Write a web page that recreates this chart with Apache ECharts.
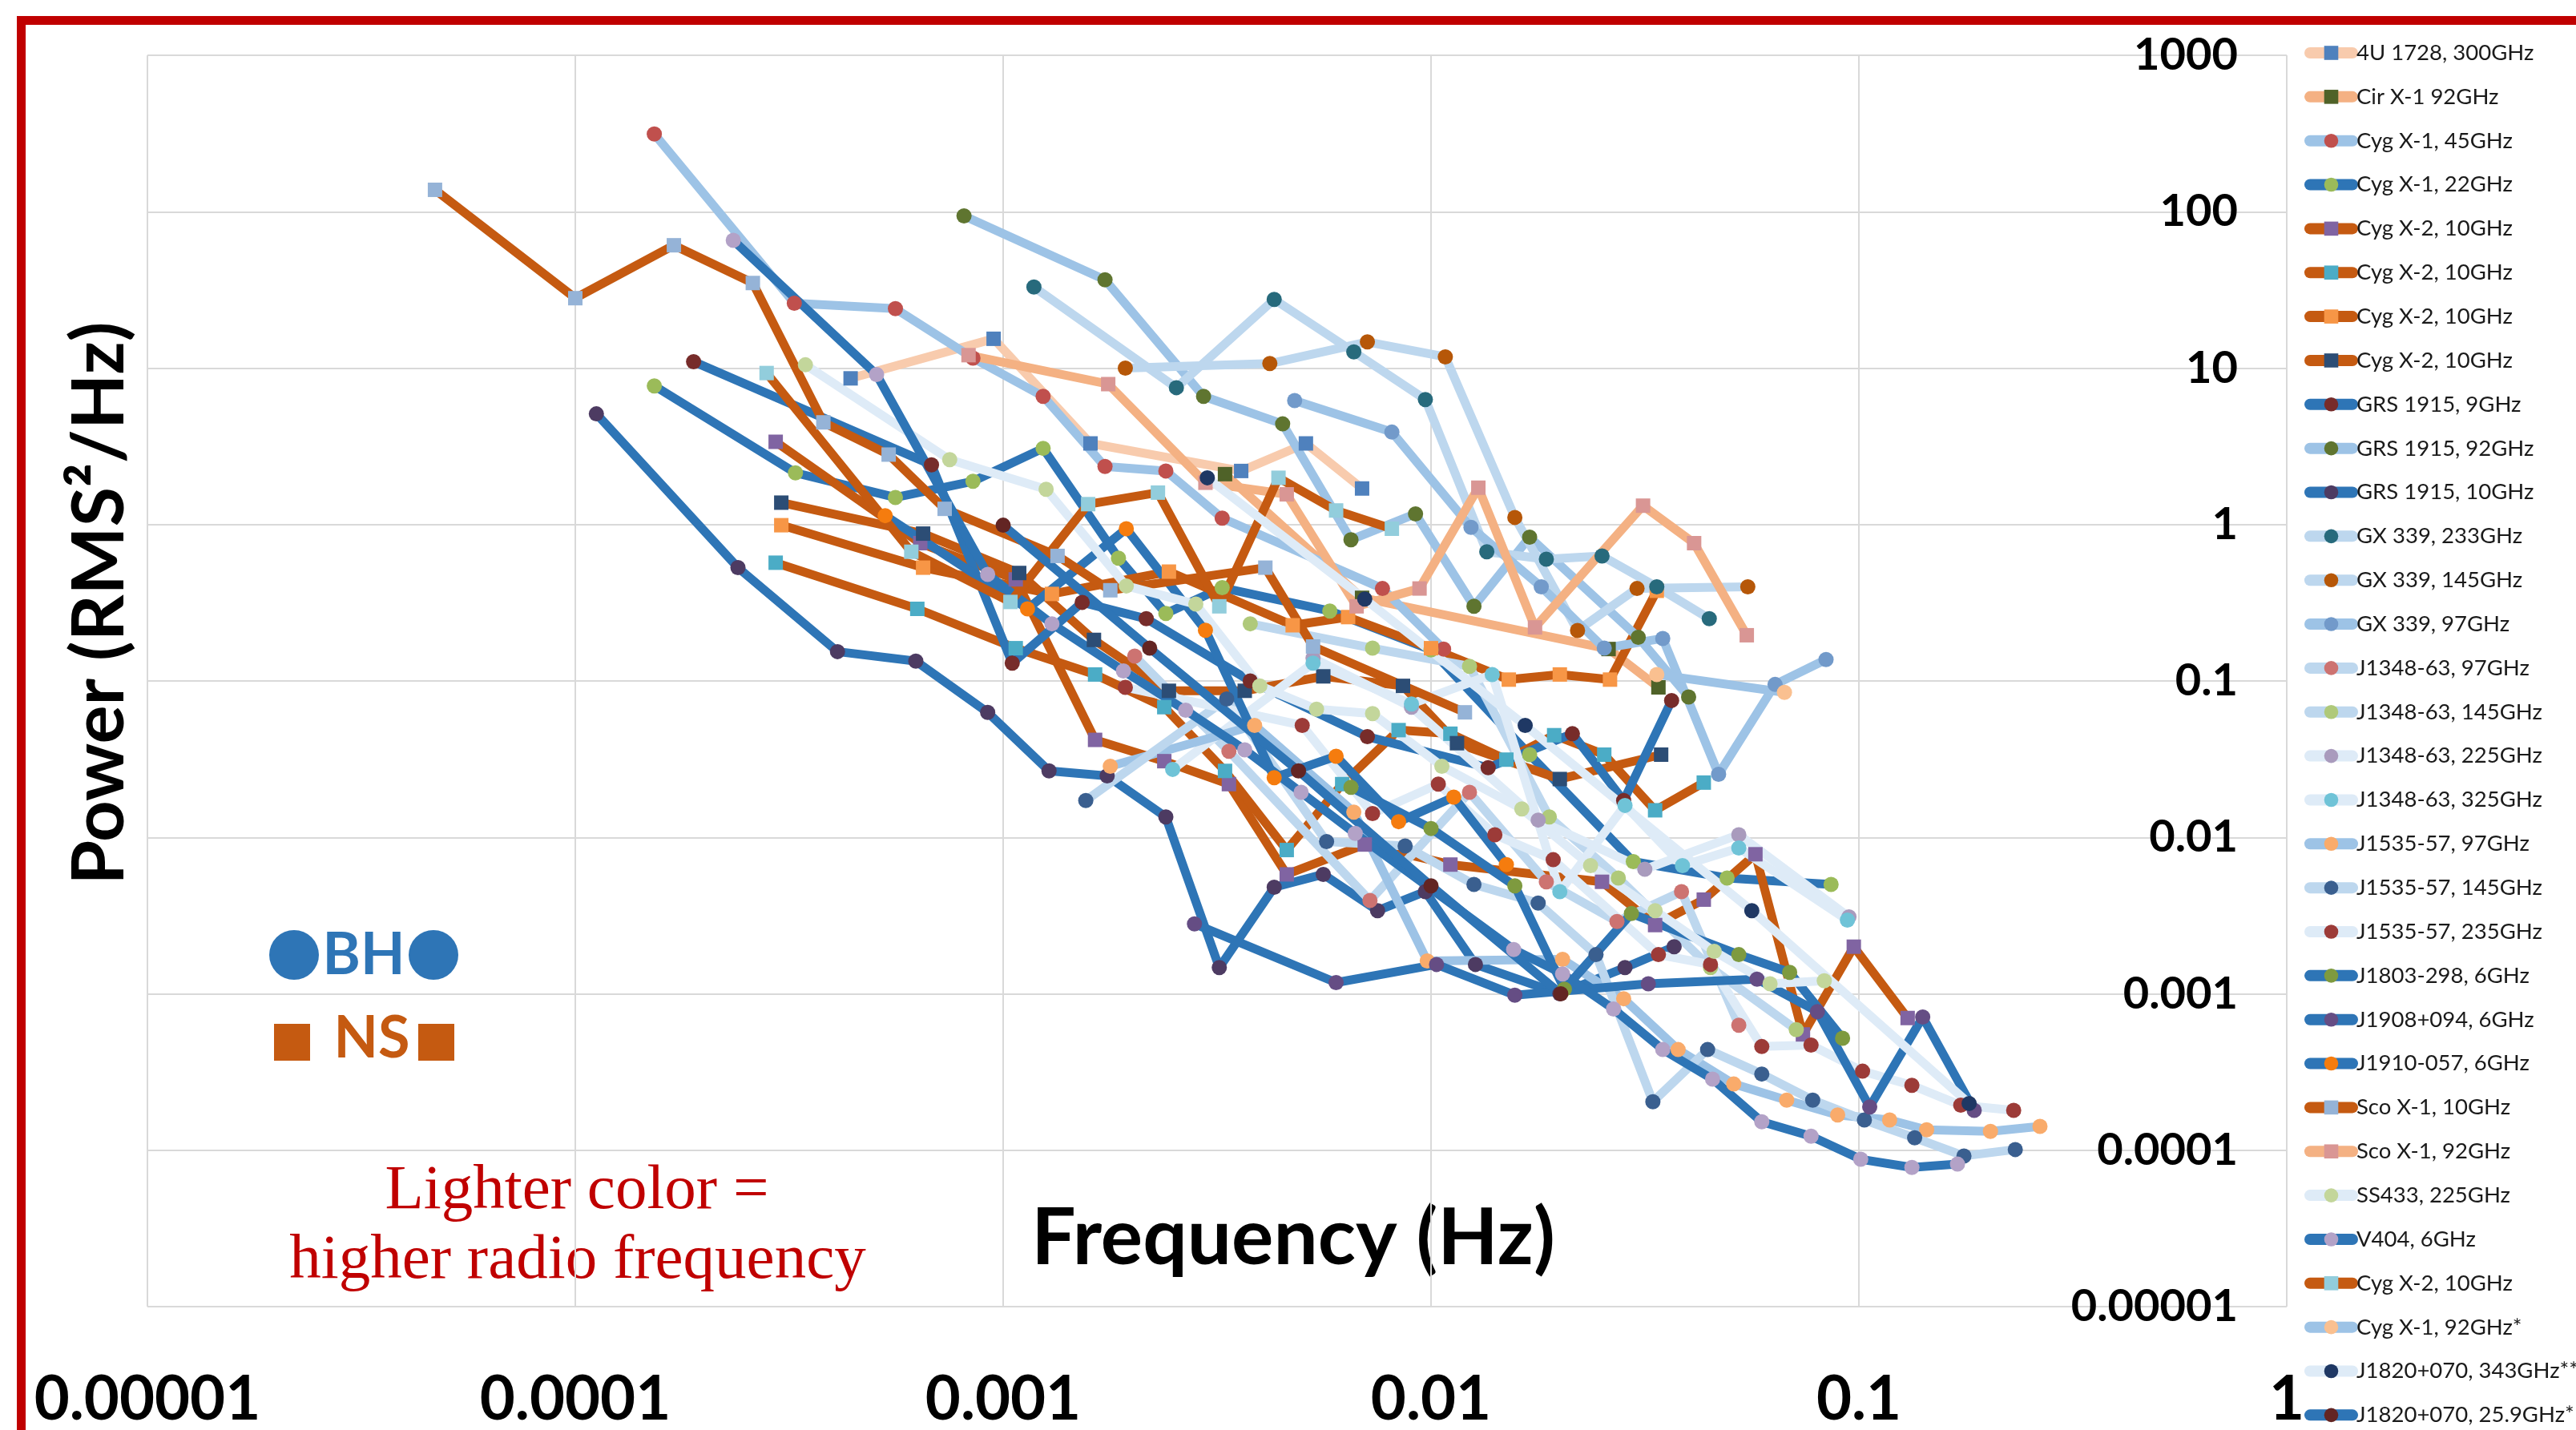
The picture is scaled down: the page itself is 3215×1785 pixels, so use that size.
<!DOCTYPE html>
<html>
<head>
<meta charset="utf-8">
<script src="https://cdn.jsdelivr.net/npm/echarts@6/dist/echarts.min.js"></script>
<style>
  html, body { margin: 0; padding: 0; background: #fff; }
  #chart { width: 3215px; height: 1785px; }
</style>
</head>
<body>
<div id="chart"></div>
<script>
// axis tick labels, one per decade
const xTickLabels = ['0.00001', '0.0001', '0.001', '0.01', '0.1', '1'];
const yTickLabels = ['0.00001', '0.0001', '0.001', '0.01', '0.1', '1', '10', '100', '1000'];

// legend names (text after '#' only keeps duplicates apart)
const seriesNames = [
  '4U 1728, 300GHz', 'Cir X-1 92GHz', 'Cyg X-1, 45GHz', 'Cyg X-1, 22GHz',
  'Cyg X-2, 10GHz#a', 'Cyg X-2, 10GHz#b', 'Cyg X-2, 10GHz#c', 'Cyg X-2, 10GHz#d',
  'GRS 1915, 9GHz', 'GRS 1915, 92GHz', 'GRS 1915, 10GHz', 'GX 339, 233GHz',
  'GX 339, 145GHz', 'GX 339, 97GHz', 'J1348-63, 97GHz', 'J1348-63, 145GHz',
  'J1348-63, 225GHz', 'J1348-63, 325GHz', 'J1535-57, 97GHz', 'J1535-57, 145GHz',
  'J1535-57, 235GHz', 'J1803-298, 6GHz', 'J1908+094, 6GHz', 'J1910-057, 6GHz',
  'Sco X-1, 10GHz', 'Sco X-1, 92GHz', 'SS433, 225GHz', 'V404, 6GHz',
  'Cyg X-2, 10GHz#e', 'Cyg X-1, 92GHz*', 'J1820+070, 343GHz**', 'J1820+070, 25.9GHz*'
];

// [frequency Hz, power RMS^2/Hz]
const fourU1728 = [[4.4e-4, 8.6], [9.5e-4, 15.4], [1.6e-3, 3.3], [3.6e-3, 2.2], [5.1e-3, 3.3], [6.9e-3, 1.7]];
const cirX1 = [[3.3e-3, 2.1], [6.9e-3, 0.34], [0.026, 0.16], [0.034, 0.091]];
const cygX1_45 = [[1.53e-4, 314], [3.25e-4, 26], [5.6e-4, 24], [8.5e-4, 11.6], [1.24e-3, 6.6], [1.73e-3, 2.35],
  [2.4e-3, 2.2], [3.25e-3, 1.1], [7.7e-3, 0.39], [0.0107, 0.16]];
const cygX1_22 = [[1.53e-4, 7.7], [3.27e-4, 2.14], [5.6e-4, 1.49], [8.5e-4, 1.89], [1.24e-3, 3.07], [1.86e-3, 0.61],
  [2.4e-3, 0.27], [3.25e-3, 0.395], [5.8e-3, 0.28], [0.01, 0.158], [0.017, 0.0338], [0.0297, 0.007],
  [0.0492, 0.0055], [0.0861, 0.005]];
const cygX2_a = [[2.94e-4, 3.38], [6.4e-4, 0.76], [1.07e-3, 0.446], [1.64e-3, 0.042], [2.38e-3, 0.0307],
  [3.37e-3, 0.0219], [4.6e-3, 0.0058], [7.0e-3, 0.009], [0.0111, 0.0067], [0.0251, 0.0052], [0.0334, 0.00275],
  [0.0434, 0.004], [0.0573, 0.0078], [0.074, 0.00055], [0.0973, 0.002], [0.13, 0.0007]];
const cygX2_b = [[2.94e-4, 0.57], [6.3e-4, 0.289], [1.07e-3, 0.162], [1.64e-3, 0.11], [2.38e-3, 0.068],
  [3.3e-3, 0.0266], [4.6e-3, 0.0083], [6.2e-3, 0.0219], [8.4e-3, 0.0485], [0.0111, 0.046], [0.015, 0.0314],
  [0.0194, 0.045], [0.0254, 0.0338], [0.0334, 0.0149], [0.0434, 0.0224]];
const cygX2_c = [[3.03e-4, 0.99], [6.5e-4, 0.53], [1.3e-3, 0.36], [2.44e-3, 0.5], [4.75e-3, 0.227], [6.4e-3, 0.256],
  [0.01, 0.162], [0.0152, 0.102], [0.02, 0.11], [0.0262, 0.102], [0.0337, 0.377]];
const cygX2_d = [[3.03e-4, 1.38], [6.5e-4, 0.875], [1.09e-3, 0.49], [1.63e-3, 0.183], [2.44e-3, 0.0865],
  [3.67e-3, 0.0865], [5.6e-3, 0.107], [8.6e-3, 0.093], [0.0115, 0.04], [0.02, 0.0236], [0.0345, 0.0338]];
const grs9 = [[1.89e-4, 11], [6.8e-4, 2.41], [1.05e-3, 0.13], [1.53e-3, 0.318], [2.16e-3, 0.25], [3.78e-3, 0.1],
  [7.1e-3, 0.044], [0.0136, 0.0279], [0.0214, 0.046], [0.0282, 0.0172], [0.0365, 0.075]];
const grs92 = [[8.1e-4, 94], [1.73e-3, 36.7], [2.94e-3, 6.6], [4.5e-3, 4.4], [6.5e-3, 0.8], [9.2e-3, 1.17],
  [0.0126, 0.3], [0.017, 0.83], [0.0305, 0.19], [0.04, 0.079]];
const grs10 = [[1.12e-4, 5.1], [2.4e-4, 0.53], [4.1e-4, 0.154], [6.25e-4, 0.134], [9.2e-4, 0.063], [1.28e-3, 0.0266],
  [1.75e-3, 0.0247], [2.4e-3, 0.0135], [3.2e-3, 0.00147], [4.3e-3, 0.0048], [5.6e-3, 0.0058], [7.5e-3, 0.0034],
  [9.7e-3, 0.0045], [0.0127, 0.00154], [0.02, 0.001], [0.0284, 0.00147], [0.037, 0.002]];
const gx233 = [[1.18e-3, 33], [2.54e-3, 7.5], [4.3e-3, 27.5], [6.6e-3, 12.7], [9.7e-3, 6.3], [0.0135, 0.67],
  [0.0186, 0.6], [0.0251, 0.63], [0.0337, 0.4], [0.0447, 0.25]];
const gx145 = [[1.93e-3, 10], [4.2e-3, 10.7], [7.1e-3, 14.7], [0.0108, 11.8], [0.0157, 1.11], [0.022, 0.21],
  [0.0303, 0.39], [0.055, 0.4]];
const gx97 = [[4.8e-3, 6.2], [8.1e-3, 3.9], [0.0124, 0.96], [0.0181, 0.4], [0.0254, 0.162], [0.0348, 0.187],
  [0.047, 0.0253], [0.0637, 0.095], [0.0838, 0.137]];
const j1348_97 = [[2.03e-3, 0.144], [3.37e-3, 0.0355], [7.2e-3, 0.00395], [0.0123, 0.0194], [0.0186, 0.0052],
  [0.0272, 0.0029], [0.0385, 0.0045], [0.0524, 0.00063]];
const j1348_145 = [[3.78e-3, 0.232], [7.3e-3, 0.162], [0.0123, 0.124], [0.0189, 0.0135], [0.0274, 0.0055],
  [0.045, 0.00147], [0.0714, 0.00059]];
const j1348_225 = [[5.3e-3, 0.14], [9.0e-3, 0.068], [0.0178, 0.0129], [0.0316, 0.00625], [0.0524, 0.0104],
  [0.0948, 0.0031]];
const j1348_325 = [[2.49e-3, 0.0272], [5.3e-3, 0.13], [9.0e-3, 0.0713], [0.0139, 0.11], [0.02, 0.0045],
  [0.0284, 0.016], [0.0387, 0.0066], [0.0524, 0.00855], [0.094, 0.00296]];
const j1535_97 = [[1.78e-3, 0.0285], [3.87e-3, 0.052], [6.6e-3, 0.0145], [9.8e-3, 0.00162], [0.0203, 0.00166],
  [0.0282, 0.00093], [0.0378, 0.00044], [0.051, 0.000265], [0.0678, 0.000209], [0.0892, 0.000168],
  [0.118, 0.000156], [0.144, 0.000135], [0.203, 0.000132], [0.265, 0.000142]];
const j1535_145 = [[1.56e-3, 0.0172], [3.33e-3, 0.0767], [5.7e-3, 0.0094], [8.7e-3, 0.0088], [0.0126, 0.005],
  [0.0178, 0.0038], [0.0243, 0.00178], [0.033, 0.000204], [0.0443, 0.00044], [0.0593, 0.000307],
  [0.078, 0.000209], [0.103, 0.000156], [0.135, 0.00012], [0.176, 0.0000919], [0.232, 0.000101]];
const j1535_235 = [[1.93e-3, 0.091], [5.0e-3, 0.052], [7.3e-3, 0.0142], [0.0104, 0.0219], [0.0141, 0.0104],
  [0.0193, 0.0072], [0.034, 0.00178], [0.045, 0.00154], [0.0593, 0.00046], [0.0773, 0.00047],
  [0.102, 0.00032], [0.133, 0.00026], [0.173, 0.000194], [0.23, 0.00018]];
const j1803 = [[6.5e-3, 0.0209], [0.01, 0.0114], [0.0157, 0.0049], [0.0205, 0.00107], [0.0294, 0.00326],
  [0.0524, 0.00178], [0.0689, 0.00137], [0.0916, 0.00052]];
const j1908 = [[2.8e-3, 0.0028], [6.0e-3, 0.00118], [0.0103, 0.00154], [0.0157, 0.00098], [0.0322, 0.00116],
  [0.0578, 0.00124], [0.08, 0.00077], [0.106, 0.000189], [0.141, 0.00071], [0.186, 0.00018]];
const j1910 = [[5.3e-4, 1.14], [1.14e-3, 0.289], [1.94e-3, 0.94], [2.97e-3, 0.211], [4.3e-3, 0.0241],
  [6.0e-3, 0.033], [8.4e-3, 0.0126], [0.0113, 0.0181], [0.015, 0.0067]];
const scoX1_10 = [[4.7e-5, 138], [1e-4, 28], [1.7e-4, 61], [2.6e-4, 35], [3.8e-4, 4.5], [5.4e-4, 2.8],
  [7.3e-4, 1.26], [1.34e-3, 0.63], [1.78e-3, 0.38], [4.1e-3, 0.53], [5.3e-3, 0.166], [0.012, 0.063]];
const scoX1_92 = [[8.3e-4, 12.1], [1.76e-3, 7.9], [2.97e-3, 1.85], [4.6e-3, 1.56], [6.7e-3, 0.3], [9.4e-3, 0.39],
  [0.0129, 1.72], [0.0175, 0.22], [0.0313, 1.32], [0.0412, 0.76], [0.0547, 0.196]];
const ss433 = [[3.45e-4, 10.5], [7.5e-4, 2.6], [1.26e-3, 1.68], [1.94e-3, 0.405], [2.82e-3, 0.31], [3.98e-3, 0.093],
  [5.4e-3, 0.066], [7.3e-3, 0.0618], [0.0106, 0.0285], [0.0163, 0.0152], [0.0236, 0.0066], [0.0334, 0.0034],
  [0.0459, 0.00187], [0.062, 0.00116], [0.083, 0.00121]];
const v404 = [[2.34e-4, 65.6], [5.06e-4, 9.1], [9.2e-4, 0.48], [1.3e-3, 0.232], [1.91e-3, 0.116], [2.67e-3, 0.065],
  [3.67e-3, 0.0363], [4.97e-3, 0.0194], [6.65e-3, 0.0106], [0.0156, 0.00192], [0.0203, 0.00134],
  [0.0267, 0.0008], [0.0348, 0.00044], [0.0455, 0.000285], [0.0593, 0.000152], [0.0773, 0.000123],
  [0.101, 0.0000875], [0.133, 0.0000776], [0.17, 0.0000815]];
const cygX2_e = [[2.8e-4, 9.3], [6.1e-4, 0.67], [1.04e-3, 0.32], [1.58e-3, 1.35], [2.3e-3, 1.6], [3.2e-3, 0.3],
  [4.4e-3, 1.99], [6.0e-3, 1.23], [8.1e-3, 0.94]];
const cygX1_92 = [[0.0337, 0.11], [0.067, 0.0846]];
const j1820_343 = [[3.0e-3, 1.99], [7.0e-3, 0.334], [0.0166, 0.052], [0.0562, 0.0034], [0.181, 0.000199]];
const j1820_259 = [[1e-3, 0.99], [2.2e-3, 0.162], [4.9e-3, 0.0266], [0.01, 0.0049], [0.0201, 0.001]];

const seriesData = [
  fourU1728, cirX1, cygX1_45, cygX1_22, cygX2_a, cygX2_b, cygX2_c, cygX2_d,
  grs9, grs92, grs10, gx233, gx145, gx97, j1348_97, j1348_145,
  j1348_225, j1348_325, j1535_97, j1535_145, j1535_235, j1803, j1908, j1910,
  scoX1_10, scoX1_92, ss433, v404, cygX2_e, cygX1_92, j1820_343, j1820_259
];

// styling: BH darker blues, NS oranges, lighter = higher radio frequency
const BH = '#2E75B6', BH2 = '#9DC3E6', BH3 = '#BDD7EE', BH4 = '#DEEBF7';
const NS = '#C55A11', NS2 = '#F4B183', NS3 = '#F8CBAD';
const lineColors = [
  NS3, NS2, BH2, BH, NS, NS, NS, NS,
  BH, BH2, BH, BH3, BH3, BH2, BH3, BH3,
  BH4, BH4, BH2, BH3, BH4, BH, BH, BH,
  NS, NS2, BH4, BH, NS, BH2, BH4, BH
];
const markerColors = [
  '#4F81BD', '#4F6228', '#C0504D', '#9BBB59', '#8064A2', '#4BACC6', '#F79646', '#2C4D75',
  '#772C2A', '#5F7530', '#4D3B62', '#276A7C', '#B65708', '#729ACA', '#CD7371', '#AFC97A',
  '#A99BBD', '#6FC3D7', '#F9AB6B', '#3A5F8F', '#9C3B38', '#7E9A3F', '#654D84', '#F57C0E',
  '#95B3D7', '#D99694', '#C3D69B', '#B3A2C7', '#92CDDC', '#FAC090', '#1F3864', '#632523'
];
const squareMarker = [0, 1, 4, 5, 6, 7, 24, 25, 28];

const chart = echarts.init(document.getElementById('chart'));

const series = seriesData.map((data, i) => {
  const isSquare = squareMarker.indexOf(i) !== -1;
  return {
    name: seriesNames[i],
    type: 'line',
    data: data,
    symbol: isSquare ? 'rect' : 'circle',
    symbolSize: isSquare ? 18 : 19,
    showAllSymbol: true,
    lineStyle: { color: lineColors[i], width: 11, cap: 'round', join: 'round' },
    itemStyle: { color: markerColors[i], borderWidth: 0 },
    emphasis: { disabled: true },
    animation: false
  };
});

const axisFont = 'Lato, "Open Sans", sans-serif';

const option = {
  backgroundColor: '#fff',
  animation: false,
  grid: { left: 184, top: 69, right: 361, bottom: 148 },
  xAxis: {
    type: 'log',
    logBase: 10,
    min: 1e-5,
    max: 1,
    splitNumber: 10,
    axisLine: { show: false },
    axisTick: { show: false },
    splitLine: { show: true, lineStyle: { color: '#D9D9D9', width: 2 } },
    axisLabel: {
      margin: 78,
      fontSize: 76,
      fontWeight: 'bold',
      fontFamily: axisFont,
      color: '#000',
      formatter: v => xTickLabels[Math.round(Math.log10(v)) + 5]
    }
  },
  yAxis: {
    type: 'log',
    logBase: 10,
    min: 1e-5,
    max: 1000,
    splitNumber: 10,
    position: 'right',
    axisLine: { show: false },
    axisTick: { show: false },
    splitLine: { show: true, lineStyle: { color: '#D9D9D9', width: 2 } },
    axisLabel: {
      inside: true,
      margin: 61,
      fontSize: 56,
      fontWeight: 'bold',
      fontFamily: axisFont,
      color: '#000',
      formatter: v => yTickLabels[Math.round(Math.log10(v)) + 5]
    }
  },
  legend: {
    orient: 'vertical',
    left: 2876,
    top: 52,
    height: 1740,
    padding: 0,
    itemWidth: 53,
    itemHeight: 22,
    itemGap: 26.85,
    selectedMode: false,
    lineStyle: { width: 14, cap: 'round' },
    textStyle: { fontSize: 27.5, fontFamily: axisFont, color: '#1a1a1a' },
    formatter: name => name.split('#')[0]
  },
  graphic: [
    {
      type: 'rect',
      silent: true,
      shape: { x: 26.5, y: 25.5, width: 5000, height: 5000 },
      style: { fill: 'none', stroke: '#C00000', lineWidth: 11 }
    },
    {
      type: 'text', x: 125, y: 753, rotation: Math.PI / 2, silent: true,
      style: { text: 'Power (RMS²/Hz)', font: 'bold 90px ' + axisFont, fill: '#000', align: 'center', verticalAlign: 'middle' }
    },
    {
      type: 'text', x: 1614, y: 1546, silent: true,
      style: { text: 'Frequency (Hz)', font: 'bold 98px ' + axisFont, fill: '#000', align: 'center', verticalAlign: 'middle' }
    },
    { type: 'circle', silent: true, shape: { cx: 367, cy: 1192, r: 31 }, style: { fill: BH } },
    {
      type: 'text', x: 454, y: 1193, silent: true,
      style: { text: 'BH', font: 'bold 72px ' + axisFont, fill: BH, align: 'center', verticalAlign: 'middle' }
    },
    { type: 'circle', silent: true, shape: { cx: 541, cy: 1192, r: 31 }, style: { fill: BH } },
    { type: 'rect', silent: true, shape: { x: 342, y: 1278, width: 45, height: 46 }, style: { fill: NS } },
    {
      type: 'text', x: 464, y: 1297, silent: true,
      style: { text: 'NS', font: 'bold 72px ' + axisFont, fill: NS, align: 'center', verticalAlign: 'middle' }
    },
    { type: 'rect', silent: true, shape: { x: 522, y: 1278, width: 45, height: 46 }, style: { fill: NS } },
    {
      type: 'text', x: 720, y: 1487, silent: true,
      style: { text: 'Lighter color =', font: '79px "Liberation Serif", serif', fill: '#C00000', align: 'center', verticalAlign: 'middle' }
    },
    {
      type: 'text', x: 721, y: 1574, silent: true,
      style: { text: 'higher radio frequency', font: '79px "Liberation Serif", serif', fill: '#C00000', align: 'center', verticalAlign: 'middle' }
    }
  ],
  series: series
};

chart.setOption(option);
</script>
</body>
</html>
